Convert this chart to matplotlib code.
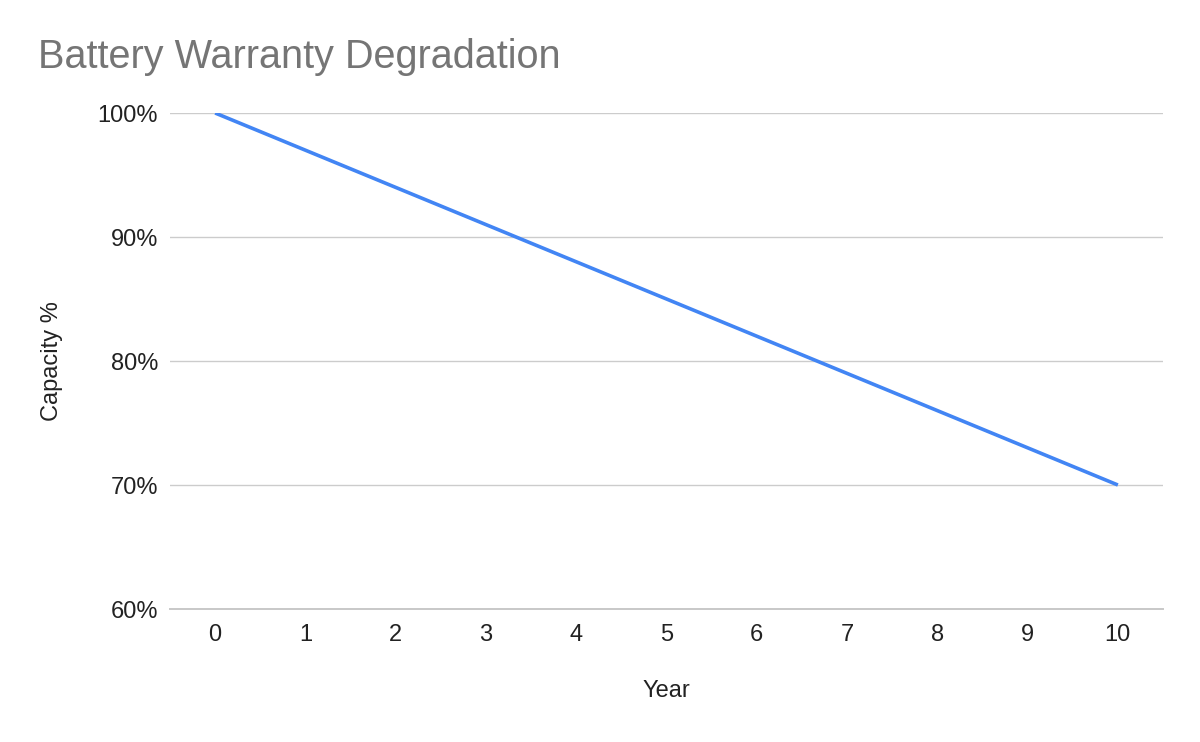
import matplotlib
matplotlib.use("Agg")
import matplotlib.pyplot as plt
from matplotlib.ticker import FuncFormatter

years = [0, 1, 2, 3, 4, 5, 6, 7, 8, 9, 10]
capacity = [100, 97, 94, 91, 88, 85, 82, 79, 76, 73, 70]
y_ticks = [60, 70, 80, 90, 100]

plt.rcParams['font.family'] = ['Liberation Sans', 'DejaVu Sans']

fig = plt.figure(figsize=(12, 7.42), dpi=100)
ax = fig.add_axes([170/1200, 1-609/742, (1163-170)/1200, (609-113)/742])

ax.plot(years, capacity, color='#4285F4', linewidth=2.6, solid_capstyle='butt', zorder=3)

ax.set_xlim(-0.5, 10.5)
ax.set_ylim(60, 100)
ax.set_yticks(y_ticks)
ax.set_xticks(years)
ax.yaxis.set_major_formatter(FuncFormatter(lambda v, p: f"{int(v)}%"))
ax.grid(axis='y', color='#cccccc', linewidth=1)
ax.axhline(60, color='#c8c8c8', linewidth=1.4, clip_on=False, zorder=1)
ax.set_axisbelow(True)
for s in ax.spines.values():
    s.set_visible(False)
ax.tick_params(axis='both', length=0, labelsize=17, colors='#222222')
ax.tick_params(axis='y', pad=8.5)
ax.tick_params(axis='x', pad=11)

ax.set_xlabel('Year', fontsize=17, color='#222222', labelpad=24)
ax.set_ylabel('Capacity %', fontsize=17, color='#222222', labelpad=25)

fig.text(38/1200, 1-57/742, 'Battery Warranty Degradation', fontsize=28.5,
         color='#757575', va='center', ha='left')

fig.savefig('out.png', dpi=100, facecolor='white')
